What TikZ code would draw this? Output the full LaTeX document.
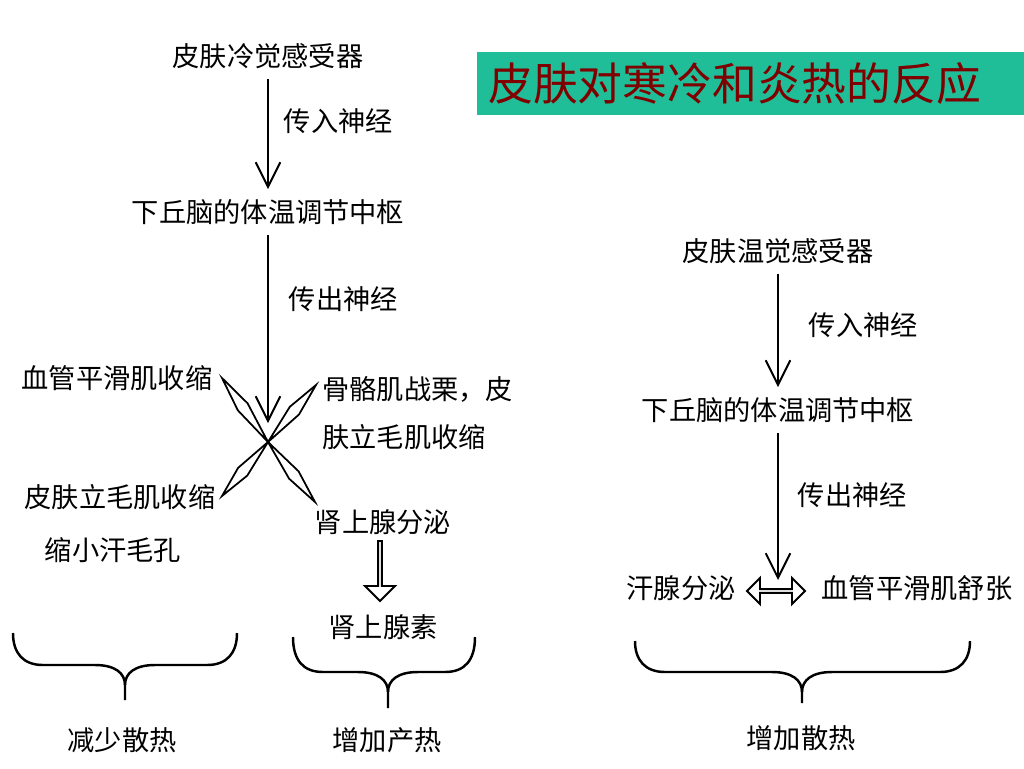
\documentclass[tikz,border=0pt]{standalone}
\usepackage{fontspec}
\newfontfamily\cjk{Noto Sans CJK SC}
\usetikzlibrary{arrows.meta,positioning,calc,shapes.arrows}
\definecolor{titlegreen}{RGB}{32,190,152}
\definecolor{titlered}{RGB}{128,0,0}

\begin{document}
\begin{tikzpicture}[
  x=0.02cm, y=-0.02cm,
  lbl/.style={font=\cjk\fontsize{15.5}{27}\selectfont, inner sep=0.2cm},
  nerve/.style={font=\cjk\fontsize{15.5}{27}\selectfont, inner sep=0pt},
  spear/.style={line width=1pt},
  hollow/.style={draw, line width=1.1pt, inner sep=0pt},
  brace/.style={line width=1.4pt},
  >={Straight Barb[length=14pt,width=14pt]}
]
  \useasboundingbox (0,0) rectangle (1024,768);

  \node[fill=titlegreen, text=titlered, font=\cjk\fontsize{25.5}{30}\selectfont,
        anchor=west, minimum height=1.26cm, text width=10.5cm, inner xsep=0.22cm,
        align=left] (title) at (477,83.5) {皮肤对寒冷和炎热的反应};

  % cold side
  \node[lbl] (coldrec) at (268,56) {皮肤冷觉感受器};
  \node[lbl] (coldctr) at (268,212) {下丘脑的体温调节中枢};
  \coordinate (xtip) at (268,423);
  \coordinate (hub) at (268,442);

  \node[lbl] (vasocon) at (117,378) {血管平滑肌收缩};
  \node[lbl, anchor=west, align=left] (shiver) at (312,413) {骨骼肌战栗，皮\\肤立毛肌收缩};
  \node[lbl] (pilo) at (120,497) {皮肤立毛肌收缩};
  \node[lbl] (pores) at (113,550) {缩小汗毛孔};
  \node[lbl] (adrsec) at (383,522) {肾上腺分泌};
  \node[lbl] (adr) at (383,627) {肾上腺素};
  \node[lbl] (lessloss) at (122,740) {减少散热};
  \node[lbl] (moreprod) at (387,740) {增加产热};

  \coordinate (armul) at (222,378);
  \coordinate (armur) at (316,385);
  \coordinate (armll) at (222,496);
  \coordinate (armlr) at (315,502);

  \draw[->, line width=1.1pt] (coldrec) -- (coldctr)
    node[nerve, pos=0.38, right=0.3cm] {传入神经};
  \draw[->, line width=1.1pt] (coldctr) -- (xtip)
    node[nerve, pos=0.34, right=0.4cm] {传出神经};

  \foreach \tip in {armul,armur,armll,armlr}
    \draw[spear] (hub) -- ($(hub)!0.55!(\tip)!0.12cm!90:(\tip)$) -- (\tip)
      -- ($(hub)!0.55!(\tip)!0.12cm!-90:(\tip)$) -- cycle;

  \node[hollow, single arrow, single arrow head extend=0.13cm, minimum width=0.6cm,
        minimum height=1.2cm, shape border rotate=270] (downarr) at (380,570) {};

  % warm side
  \node[lbl] (warmrec) at (778,251) {皮肤温觉感受器};
  \node[lbl] (warmctr) at (778,410) {下丘脑的体温调节中枢};
  \node[lbl] (sweat) at (681,588) {汗腺分泌};
  \node[lbl] (vasodil) at (917,588) {血管平滑肌舒张};
  \node[lbl] (moreloss) at (801,738) {增加散热};
  \node[hollow, double arrow, double arrow head extend=0.12cm, minimum width=0.52cm,
        minimum height=1.16cm] (dblarr) at (776,591) {};
  \coordinate (vtip) at (778,580);

  \draw[->, line width=1.1pt] (warmrec) -- (warmctr)
    node[nerve, pos=0.45, right=0.6cm] {传入神经};
  \draw[->, line width=1.1pt] (warmctr) -- (vtip)
    node[nerve, pos=0.42, right=0.38cm] {传出神经};

  % braces
  \foreach \a/\b/\m/\t/\h/\e in {13/237/125/633/665/700, 293/475/388/637/672/708,
                                 635/970/802/641/672/703} {
    \draw[brace] (\a,\t) .. controls (\a,{\h-12}) and ({\a+10},\h) .. ({\a+30},\h)
      -- ({\m-30},\h) .. controls ({\m-10},\h) and (\m,{\h+8}) .. (\m,{\h+20}) -- (\m,\e);
    \draw[brace] (\b,\t) .. controls (\b,{\h-12}) and ({\b-10},\h) .. ({\b-30},\h)
      -- ({\m+30},\h) .. controls ({\m+10},\h) and (\m,{\h+8}) .. (\m,{\h+20});
  }
\end{tikzpicture}
\end{document}
